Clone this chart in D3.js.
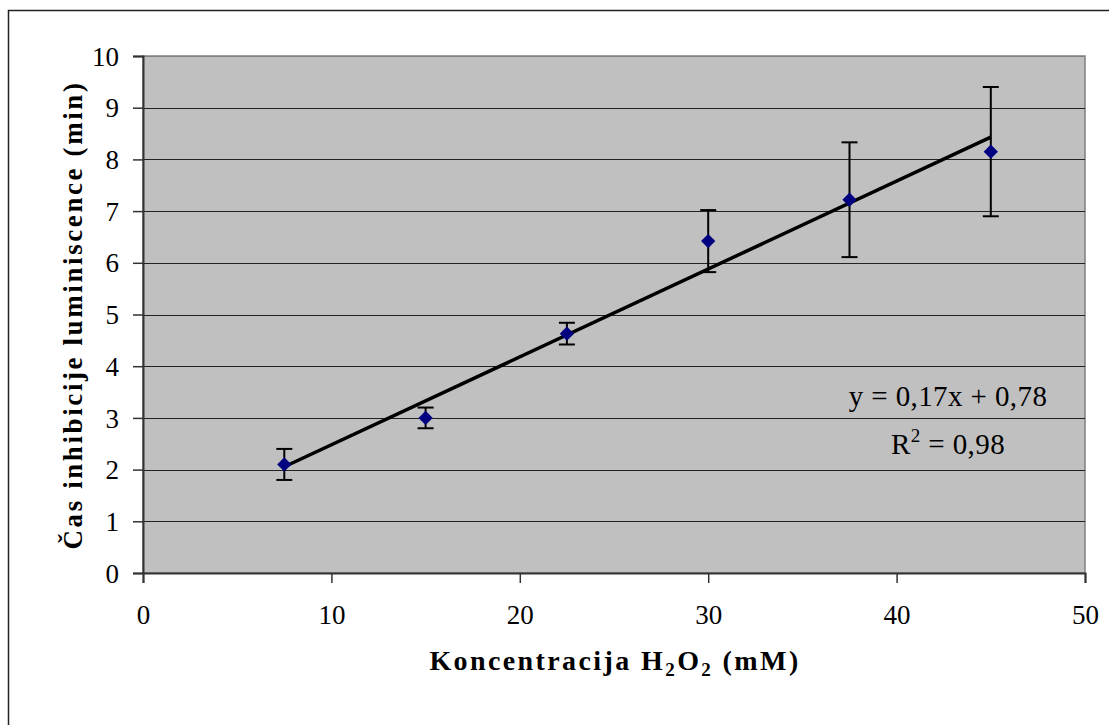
<!DOCTYPE html>
<html>
<head>
<meta charset="utf-8">
<script src="https://cdn.jsdelivr.net/npm/d3@7"></script>
<style>
  body { margin: 0; background: #fff; }
  text { font-family: "Liberation Serif", "DejaVu Serif", serif; fill: #000; }
</style>
</head>
<body>
<div id="chart"></div>
<script>
// H2O2 concentration vs luminescence inhibition time, with linear fit

const concentration = [7.5, 15, 22.5, 30, 37.5, 45];
const inhibitionTime = [2.1, 3.0, 4.63, 6.42, 7.22, 8.15];
const errorMargin = [0.3, 0.2, 0.21, 0.6, 1.11, 1.25];
const xTicks = [0, 10, 20, 30, 40, 50];
const yTicks = [0, 1, 2, 3, 4, 5, 6, 7, 8, 9, 10];
const slope = 0.17, intercept = 0.78;
const equationLines = ["y = 0,17x + 0,78", "R", " = 0,98"];

const W = 1109, H = 725;
const margin = {top: 56, right: 24, bottom: 152, left: 143};
const width = 1085 - margin.left,
      height = 573 - margin.top;

const svg = d3.select("#chart").append("svg")
  .attr("width", W).attr("height", H);

// outer chart frame (runs off the right/bottom edges like the source image)
svg.append("rect")
  .attr("x", 8.5).attr("y", 10.5)
  .attr("width", 1200).attr("height", 800)
  .attr("fill", "none").attr("stroke", "#222").attr("stroke-width", 1.5);

const g = svg.append("g").attr("transform", `translate(${margin.left},${margin.top})`);

const x = d3.scaleLinear().domain([0, 50]).range([0, width]);
const y = d3.scaleLinear().domain([0, 10]).range([height, 0]);

g.append("rect")
  .attr("width", width).attr("height", height)
  .attr("fill", "#c0c0c0").attr("stroke", "#808080").attr("stroke-width", 1.5);

// gridlines
g.selectAll(".grid")
  .data(yTicks.filter(d => d > 0))
  .enter().append("line")
  .attr("x1", 0).attr("x2", width)
  .attr("y1", d => Math.round(y(d)) + 0.5).attr("y2", d => Math.round(y(d)) + 0.5)
  .attr("stroke", d => d === 10 ? "#808080" : "#222").attr("stroke-width", 1.2);

// axes
const yAxis = g.append("g")
  .call(d3.axisLeft(y).tickValues(yTicks).tickSize(10).tickPadding(14).tickFormat(d3.format("d")));
const xAxis = g.append("g")
  .attr("transform", `translate(0,${height})`)
  .call(d3.axisBottom(x).tickValues(xTicks).tickSize(10).tickPadding(22).tickFormat(d3.format("d")));

[yAxis, xAxis].forEach(a => {
  a.select(".domain").attr("stroke", "#333").attr("stroke-width", 2);
  a.selectAll(".tick line").attr("stroke", "#333").attr("stroke-width", 1.5);
  a.selectAll("text")
    .style("font-family", "'Liberation Serif', serif")
    .style("font-size", "27px").attr("fill", "#000");
});
yAxis.selectAll("text").attr("dy", "0.34em");

// trend line
g.append("line")
  .attr("x1", x(concentration[0])).attr("y1", y(slope * concentration[0] + intercept))
  .attr("x2", x(concentration[5])).attr("y2", y(slope * concentration[5] + intercept))
  .attr("stroke", "#000").attr("stroke-width", 3.5);

// error bars
const pts = concentration.map((c, i) => ({c: c, v: inhibitionTime[i], e: errorMargin[i]}));
const eb = g.selectAll(".err").data(pts).enter().append("g")
  .attr("stroke", "#000").attr("stroke-width", 2);
eb.append("line")
  .attr("x1", d => x(d.c)).attr("x2", d => x(d.c))
  .attr("y1", d => y(d.v + d.e)).attr("y2", d => y(d.v - d.e));
eb.append("line")
  .attr("x1", d => x(d.c) - 8).attr("x2", d => x(d.c) + 8)
  .attr("y1", d => y(d.v + d.e)).attr("y2", d => y(d.v + d.e));
eb.append("line")
  .attr("x1", d => x(d.c) - 8).attr("x2", d => x(d.c) + 8)
  .attr("y1", d => y(d.v - d.e)).attr("y2", d => y(d.v - d.e));

// diamond markers
g.selectAll(".pt").data(pts).enter().append("path")
  .attr("d", d3.symbol(d3.symbolDiamond2, 130))
  .attr("transform", d => `translate(${x(d.c)},${y(d.v)})`)
  .attr("fill", "#000080");

// regression equation
svg.append("text")
  .attr("x", 948).attr("y", 406)
  .attr("text-anchor", "middle")
  .style("font-size", "29px").style("letter-spacing", "0.4px")
  .text(equationLines[0]);
const r2 = svg.append("text")
  .attr("x", 948).attr("y", 454)
  .attr("text-anchor", "middle")
  .style("font-size", "29px").style("letter-spacing", "0.4px");
r2.append("tspan").text(equationLines[1]);
r2.append("tspan").attr("dy", -12).style("font-size", "19px").text("2");
r2.append("tspan").attr("dy", 12).text(equationLines[2]);

// axis titles
const xt = svg.append("text")
  .attr("x", 615).attr("y", 670)
  .attr("text-anchor", "middle")
  .style("font-size", "28px").style("font-weight", "bold").style("letter-spacing", "2.4px");
xt.append("tspan").text("Koncentracija H");
xt.append("tspan").attr("dy", 6).style("font-size", "19px").text("2");
xt.append("tspan").attr("dy", -6).text("O");
xt.append("tspan").attr("dy", 6).style("font-size", "19px").text("2");
xt.append("tspan").attr("dy", -6).text(" (mM)");

svg.append("text")
  .attr("transform", "translate(82,315) rotate(-90)")
  .attr("text-anchor", "middle")
  .style("font-size", "27px").style("font-weight", "bold").style("letter-spacing", "2.6px")
  .text("Čas inhibicije luminiscence (min)");
</script>
</body>
</html>
